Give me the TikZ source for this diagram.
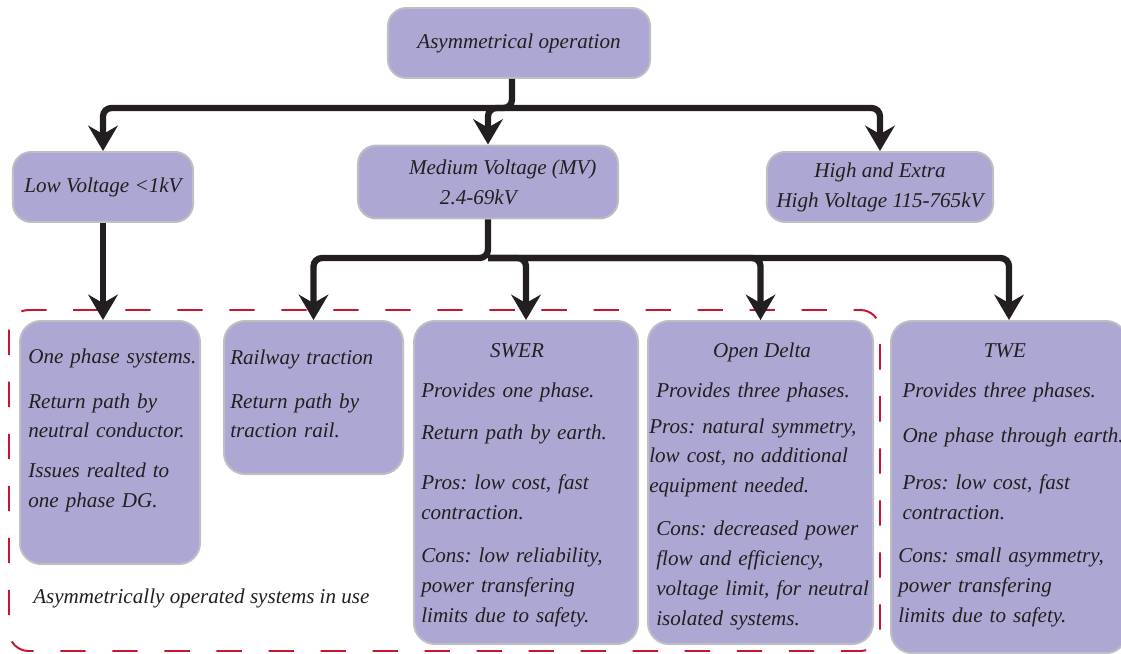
\documentclass[tikz,border=0pt]{standalone}
\usepackage{fontspec}
\setmainfont{Liberation Serif}
\usetikzlibrary{arrows.meta}
\definecolor{boxfill}{RGB}{172,167,211}
\definecolor{boxline}{RGB}{190,190,195}
\definecolor{inkdark}{RGB}{35,31,32}
\definecolor{dashred}{RGB}{200,20,50}
\frenchspacing

\begin{document}
\begin{tikzpicture}[x=0.025cm, y=-0.025cm, >={Stealth[length=18pt, width=21pt, inset=6pt]},
        font=\fontsize{15}{21.3}\selectfont\itshape, text=inkdark,
        hbox/.style={draw=boxline, line width=1.4pt, fill=boxfill, rounded corners=13pt, align=center},
        bbox/.style={draw=boxline, line width=1.4pt, fill=boxfill, rounded corners=15pt, anchor=north west},
        btxt/.style={anchor=base west, inner sep=0pt, text width=6cm, align=left},
        bhead/.style={anchor=base, inner sep=0pt},
        link/.style={->, line width=4.5pt, draw=inkdark, rounded corners=6pt}]
                \clip (0,0) rectangle (1121,653);
                % systems in use
                \draw[dashred, line width=1.4pt, dash pattern=on 18pt off 19pt, rounded corners=14pt] (9,310) rectangle (880,651);
                \node[anchor=base west, inner sep=0pt] (inuse) at (33,603) {Asymmetrically operated systems in use};

                \node[hbox, minimum width=6.55cm, minimum height=1.75cm] (asym) at (519,43) {Asymmetrical operation};
                \node[hbox, minimum width=4.5cm, minimum height=1.75cm] (low) at (103,187) {Low Voltage <1kV};
                \node[hbox, minimum width=6.5cm, minimum height=1.825cm, align=left] (med) at (488,182) {\hspace*{21pt}Medium Voltage (MV)\\\hspace*{43pt}2.4-69kV};
                \node[hbox, minimum width=5.65cm, minimum height=1.75cm] (high) at (880,187) {High and Extra\\High Voltage 115-765kV};

                \node[bbox, minimum width=4.5cm, minimum height=6.075cm] (onephase) at (19,320) {};
                \node[bbox, minimum width=4.475cm, minimum height=3.825cm] (railway) at (223,320) {};
                \node[bbox, minimum width=5.6cm, minimum height=8.075cm] (swer) at (413,320) {};
                \node[bbox, minimum width=5.625cm, minimum height=8.075cm] (delta) at (647,320) {};
                \node[bbox, minimum width=5.9cm, minimum height=8.3cm] (twe) at (890,320) {};

                \node[btxt] (onephase text) at (28,363) {One phase systems.\\[10.7pt]Return path by\\neutral conductor.\\[7pt]Issues realted to\\one phase DG.};
                \node[btxt] (railway text) at (230,364) {Railway traction\\[10pt]Return path by\\traction rail.};
                \node[bhead] (swer head) at (517,357) {SWER};
                \node[btxt] (swer text) at (421,397) {Provides one phase.\\[9.2pt]Return path by earth.\\[14.2pt]Pros: low cost, fast\\contraction.\\[9.2pt]Cons: low reliability,\\power transfering\\limits due to safety.};
                \node[bhead] (delta head) at (762,357) {Open Delta};
                \node[btxt] (delta text) at (649,397) {\hspace*{5pt}Provides three phases.\\[4.3pt]Pros: natural symmetry,\\low cost, no additional\\equipment needed.\\[9.2pt]\hspace*{5pt}Cons: decreased power\\\hspace*{5pt}flow and efficiency,\\\hspace*{5pt}voltage limit, for neutral\\\hspace*{5pt}isolated systems.};
                \node[bhead] (twe head) at (1005,357) {TWE};
                \node[btxt] (twe text) at (898,397) {\hspace*{3pt}Provides three phases.\\[10.7pt]\hspace*{3pt}One phase through earth.\\[12.8pt]\hspace*{3pt}Pros: low cost, fast\\\hspace*{3pt}contraction.\\[9.2pt]Cons: small asymmetry,\\power transfering\\limits due to safety.};

                \coordinate (top fork) at (512,108);
                \coordinate (mid fork) at (488,258);
                \draw[link] (asym.south -| top fork) -- (top fork) -| (low.north);
                \draw[link] (top fork) -| (med.north);
                \draw[link] (top fork) -| (high.north);
                \draw[link] (low.south) -- (low.south |- onephase.north);
                \draw[link] (med.south) -- (mid fork) -| (railway.north);
                \draw[link] (mid fork) -| (swer.north);
                \draw[link] (mid fork) -| (delta.north);
                \draw[link] (mid fork) -| (twe.north);
\end{tikzpicture}
\end{document}
